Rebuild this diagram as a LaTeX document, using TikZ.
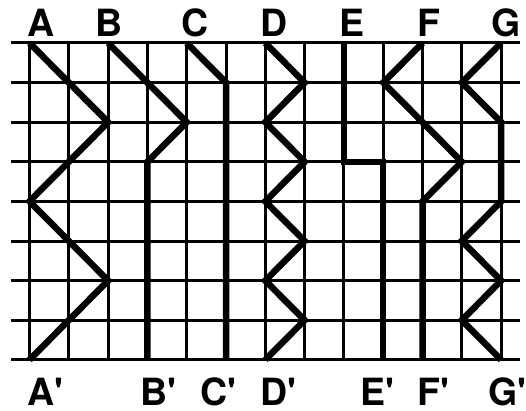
\documentclass[tikz,border=0pt]{standalone}
\usepackage{fontspec}
\setmainfont{TeX Gyre Heros}
\begin{document}
\begin{tikzpicture}[x=1pt,y=-1pt,
  gridline/.style={line width=3pt},
  route/.style={line width=6.5pt, line join=miter},
  lbl/.style={font=\bfseries\fontsize{37.5}{40}\selectfont, inner sep=0pt, anchor=base west}]
\useasboundingbox (0,0) rectangle (526,411);
\foreach \i in {0,...,12} {
  \foreach \j in {0,...,8} {
    \coordinate (g-\i-\j) at ({29.5+39.3*\i},{43+39.6*\j});
  }
}
\foreach \j in {0,...,8} {
  \coordinate (L\j) at (11,{43+39.6*\j});
  \coordinate (R\j) at (520,{43+39.6*\j});
  \draw[gridline] (L\j) -- (R\j);
}
\foreach \i in {0,...,12} \draw[gridline] (g-\i-0) -- (g-\i-8);
% routes
\draw[route] (g-0-0) -- (g-2-2) -- (g-0-4) -- (g-2-6) -- (g-0-8);
\draw[route] (g-2-0) -- (g-4-2) -- (g-3-3) -- (g-3-8);
\draw[route] (g-4-0) -- (g-5-1) -- (g-5-8);
\draw[route] (g-6-0) -- (g-7-1) -- (g-6-2) -- (g-7-3) -- (g-6-4) -- (g-7-5) -- (g-6-6) -- (g-7-7) -- (g-6-8);
\draw[route] (g-8-0) -- (g-8-3) -- (g-9-3) -- (g-9-8);
\draw[route] (g-10-0) -- (g-9-1) -- (g-11-3) -- (g-10-4) -- (g-10-8);
\draw[route] (g-12-0) -- (g-11-1) -- (g-12-2) -- (g-12-4) -- (g-11-5) -- (g-12-6) -- (g-11-7) -- (g-12-8);
% top labels
\node[lbl] (tA) at (27.5,37) {A};
\node[lbl] (tB) at (95,37) {B};
\node[lbl] (tC) at (181,37) {C};
\node[lbl] (tD) at (260,37) {D};
\node[lbl] (tE) at (339,37) {E};
\node[lbl] (tF) at (417,37) {F};
\node[lbl] (tG) at (491,37) {G};
% bottom labels
\node[lbl] (bA) at (27.5,405) {A\textquotesingle};
\node[lbl] (bB) at (140,405) {B\textquotesingle};
\node[lbl] (bC) at (200,405) {C\textquotesingle};
\node[lbl] (bD) at (260,405) {D\textquotesingle};
\node[lbl] (bE) at (360,405) {E\textquotesingle};
\node[lbl] (bF) at (417,405) {F\textquotesingle};
\node[lbl] (bG) at (488,405) {G\textquotesingle};
\end{tikzpicture}
\end{document}
